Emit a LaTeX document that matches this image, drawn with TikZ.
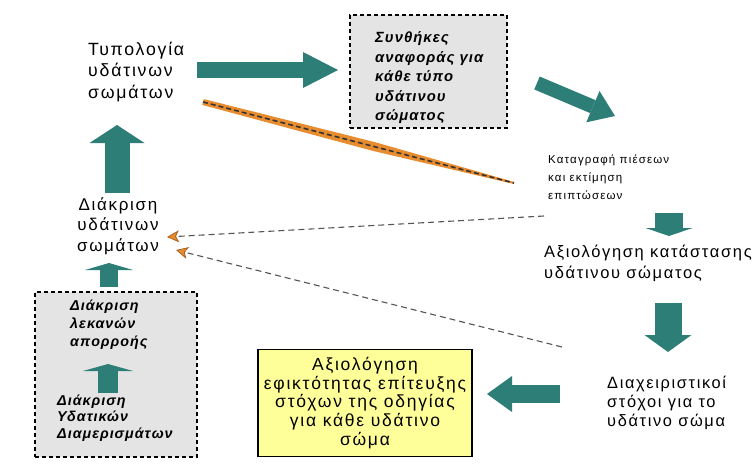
\documentclass[tikz,border=0pt]{standalone}
\usepackage{fontspec}
\setmainfont{Liberation Sans}
\newfontfamily\ltr[LetterSpace=10]{Liberation Sans}
\newfontfamily\ltrb[LetterSpace=7]{Liberation Sans}
\usetikzlibrary{arrows.meta,calc}
\definecolor{tealc}{RGB}{46,126,120}
\definecolor{boxgray}{RGB}{228,228,228}
\definecolor{yel}{RGB}{255,255,153}
\definecolor{orng}{RGB}{232,140,48}
\definecolor{dgray}{RGB}{85,85,85}
\definecolor{orngdk}{RGB}{170,95,30}
\tikzset{
  blockarrow/.style n args={3}{draw=tealc, line width=#1,
    -{Triangle[length=#2,width=#3,fill=tealc,line width=0pt]}},
  txt/.style={inner sep=0pt, align=left},
  graybox/.style={draw=black, fill=boxgray, line width=1.2pt,
    dash pattern=on 4pt off 3pt, inner sep=0pt},
  yelbox/.style={draw=black, fill=yel, line width=1.2pt, inner sep=0pt, align=center},
  fbline/.style={draw=dgray, line width=1.1pt, dash pattern=on 6pt off 4pt,
    -{Stealth[length=12pt,width=12pt,inset=3pt,fill=orng,color=orngdk,line width=0.8pt]}},
  bitext/.style={inner sep=0pt, align=left, font=\ltrb\bfseries\itshape\fontsize{14.8}{19.5}\selectfont}
}
\begin{document}
\begin{tikzpicture}[x=1pt,y=-1pt]
\useasboundingbox (0,0) rectangle (754,471);
\fill[white] (0,0) rectangle (754,471);

% boxes
\node[graybox, minimum width=157pt, minimum height=113pt] (box1) at (428.5,71.5) {};
\node[bitext, anchor=west] (box1t) at (375,78) {Συνθήκες\\αναφοράς για\\κάθε τύπο\\υδάτινου\\σώματος};

\node[graybox, minimum width=162pt, minimum height=165pt] (box2) at (116,374.5) {};
\node[bitext, anchor=west, font=\ltrb\bfseries\itshape\fontsize{14.3}{18}\selectfont] (lek) at (70,325) {Διάκριση\\λεκανών\\απορροής};
\node[bitext, anchor=west, font=\ltrb\bfseries\itshape\fontsize{14.3}{16.5}\selectfont] (ydat) at (57,418) {Διάκριση\\Υδατικών\\Διαμερισμάτων};

\node[yelbox, minimum width=214pt, minimum height=107pt,
  font=\ltr\fontsize{17.5}{18.7}\selectfont] (eval) at (365,403)
  {Αξιολόγηση\\εφικτότητας επίτευξης\\στόχων της οδηγίας\\για κάθε υδάτινο\\σώμα};

% plain texts
\node[txt, anchor=west, font=\ltr\fontsize{17.7}{21.5}\selectfont] (typ) at (88,72) {Τυπολογία\\υδάτινων\\σωμάτων};
\node[txt, align=center, font=\ltr\fontsize{17}{20.5}\selectfont] (diak) at (118,226) {Διάκριση\\υδάτινων\\σωμάτων};
\node[txt, anchor=west, font=\ltr\fontsize{11.5}{18}\selectfont] (katag) at (548,177) {Καταγραφή πιέσεων\\και εκτίμηση\\επιπτώσεων};
\node[txt, anchor=west, font=\ltr\fontsize{16.5}{21}\selectfont] (axiol) at (544,263) {Αξιολόγηση κατάστασης\\υδάτινου σώματος};
\node[txt, anchor=west, font=\ltr\fontsize{16.4}{19}\selectfont] (diax) at (607,403) {Διαχειριστικοί\\στόχοι για το\\υδάτινο σώμα};

% arrow end coordinates
\coordinate (a1s) at (197,70);  \coordinate (a1e) at (338,70);
\coordinate (a2s) at (537,83);  \coordinate (a2e) at (615,116);
\coordinate (a3s) at (669,213); \coordinate (a3e) at (669,236);
\coordinate (a4s) at (668,303); \coordinate (a4e) at (668,352);
\coordinate (a5s) at (560,394); \coordinate (a5e) at (487,394);
\coordinate (a6s) at (117,193); \coordinate (a6e) at (117,125);
\coordinate (a7s) at (109,287); \coordinate (a7e) at (109,263);
\coordinate (a8s) at (108,393); \coordinate (a8e) at (108,364);

\draw[blockarrow={16pt}{35pt}{36pt}] (a1s) -- (a1e);
\draw[blockarrow={14pt}{24pt}{34pt}] (a2s) -- (a2e);
\draw[blockarrow={28pt}{8pt}{47pt}] (a3s) -- (a3e);
\draw[blockarrow={27pt}{17pt}{47pt}] (a4s) -- (a4e);
\draw[blockarrow={18pt}{25pt}{36pt}] (a5s) -- (a5e);
\draw[blockarrow={25pt}{18pt}{55pt}] (a6s) -- (a6e);
\draw[blockarrow={18pt}{7pt}{48pt}] (a7s) -- (a7e);
\draw[blockarrow={20pt}{7pt}{50pt}] (a8s) -- (a8e);

% orange tapered dashed line
\coordinate (oP) at (203,102);
\coordinate (oQ) at (514,183);
\coordinate (oM) at ($(oP)!0.55!(oQ)$);
\fill[orng] ($(oP)!3pt!90:(oQ)$) -- ($(oM)!4.5pt!90:(oQ)$) -- ($(oQ)!1pt!-90:(oP)$)
  -- ($(oQ)!1pt!90:(oP)$) -- ($(oM)!4.5pt!-90:(oQ)$) -- ($(oP)!3pt!-90:(oQ)$) -- cycle;
\draw[draw=black!80, line width=1.6pt, dash pattern=on 5pt off 3pt] (oP) -- (oQ);

% grey dashed feedback lines
\coordinate (f1s) at (544,216); \coordinate (f1e) at (167,237);
\coordinate (f2s) at (562,347); \coordinate (f2e) at (176,250);
\draw[fbline] (f1s) -- (f1e);
\draw[fbline] (f2s) -- (f2e);
\end{tikzpicture}
\end{document}
